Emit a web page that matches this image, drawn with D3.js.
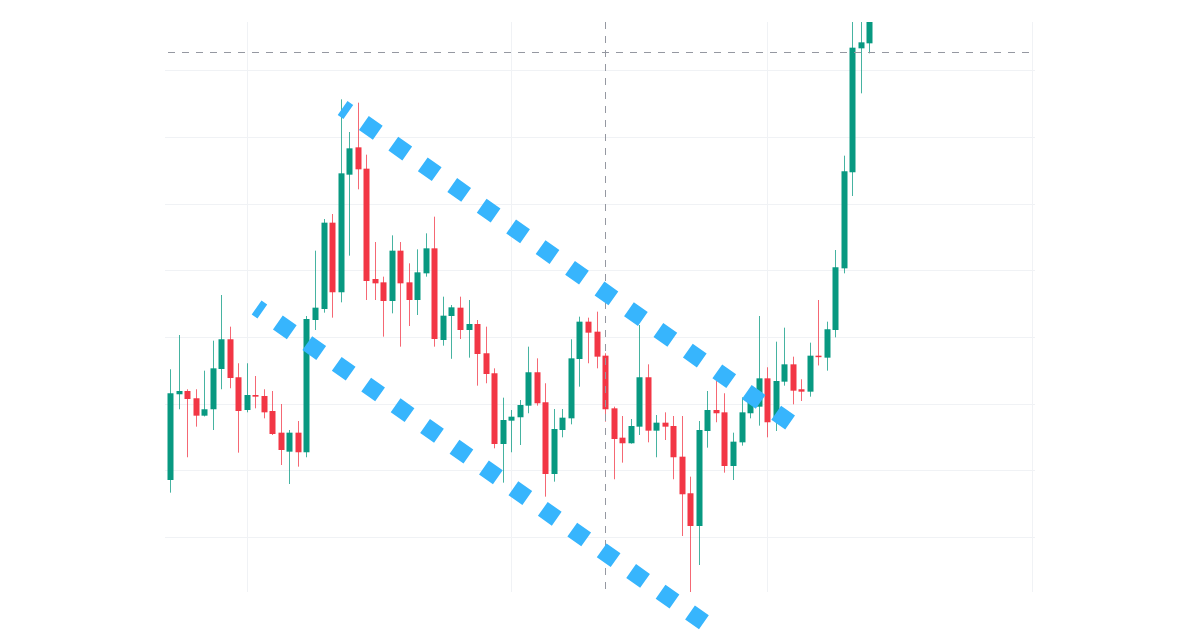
<!DOCTYPE html>
<html>
<head>
<meta charset="utf-8">
<script src="https://cdn.jsdelivr.net/npm/d3@7"></script>
<style>
  html, body { margin: 0; padding: 0; background: #ffffff; }
  svg { display: block; }
</style>
</head>
<body>
<svg id="chart" width="1200" height="630"></svg>
<script>
// ---- data ----
const firstDay = "2023-02-20";
const lastDay = "2023-05-14"; // exclusive
const open = [68.55,81.41,81.90,80.81,78.20,79.16,85.20,89.66,83.96,79.05,81.30,81.15,78.90,75.65,72.80,75.65,72.71,92.55,94.20,107.15,96.71,114.35,118.45,115.25,98.70,98.20,95.40,102.95,98.20,95.55,99.55,103.30,89.55,93.15,94.40,91.05,91.95,87.56,84.56,73.95,77.45,77.96,79.70,84.71,80.21,69.45,76.05,77.80,86.70,92.30,90.80,87.20,79.30,74.90,74.06,76.55,83.96,75.95,77.15,76.65,72.05,66.56,61.65,75.90,79.05,78.70,70.65,74.20,78.56,79.55,83.80,77.55,83.30,85.90,82.16,81.80,87.20,86.90,91.05,100.30,114.71,133.30,134.05];
const high = [85.16,90.30,82.16,82.16,84.95,89.45,96.30,91.55,86.06,86.06,84.15,82.16,81.90,79.95,76.05,77.40,93.15,102.95,107.70,108.45,125.65,120.75,125.15,117.35,104.25,99.05,105.25,104.25,101.05,103.15,105.55,108.05,96.05,94.80,96.05,95.55,92.55,91.55,85.30,80.90,79.05,80.55,88.55,86.80,83.06,79.20,79.20,89.66,93.05,92.90,93.80,87.56,79.55,78.15,77.70,91.80,85.90,78.30,78.70,78.15,78.15,69.05,77.40,81.90,83.40,81.56,75.65,80.95,81.70,93.15,85.46,89.30,91.40,87.05,83.66,89.15,95.55,92.30,103.05,117.20,139.50,140.80,141.50];
const low = [66.65,79.16,71.96,76.55,78.08,76.05,82.16,82.31,72.65,78.70,79.30,77.80,75.30,70.80,67.95,70.55,71.96,91.05,93.65,92.90,95.20,102.20,112.15,95.55,95.55,90.05,93.55,88.55,91.65,93.30,99.05,88.55,88.70,86.73,89.70,86.90,82.70,83.06,73.30,68.15,72.71,73.80,78.56,79.70,66.05,68.30,74.95,76.90,82.55,86.06,85.30,77.30,68.66,71.15,74.00,75.30,74.20,71.96,74.55,68.66,60.15,51.55,55.80,73.40,77.21,69.65,68.55,73.70,77.80,76.70,74.95,75.90,82.70,79.90,80.40,81.05,85.73,84.95,89.95,99.55,111.15,126.55,132.55];
const close = [81.56,81.90,80.70,78.20,79.16,85.30,89.66,83.85,78.90,81.30,81.05,78.70,75.45,73.05,75.65,72.71,92.70,94.40,107.15,96.71,114.55,118.30,115.15,98.40,98.05,95.40,102.95,98.05,95.55,99.70,103.30,89.70,93.20,94.45,91.05,91.95,87.45,84.45,73.95,77.55,78.05,79.80,84.71,80.06,69.45,76.20,77.90,86.80,92.30,90.65,87.05,79.16,74.70,74.06,76.65,83.96,75.95,77.15,76.55,71.96,66.41,61.65,76.05,79.05,78.56,70.65,74.30,78.70,80.50,83.80,77.21,83.40,85.90,81.95,81.80,87.20,87.05,91.16,100.46,114.86,133.40,134.20,139.00];
const priceGrid = [60,70,80,90,100,110,120,130];
const channelUpper = [["2023-03-12T05:37:00Z",124.35],["2023-05-03T17:45:00Z",77.13]];
const channelLower = [["2023-03-02T03:39:00Z",94.43],["2023-04-23T14:24:00Z",47.20]];
const crosshairDate = "2023-04-12";
const crosshairPrice = 132.80;

// ---- layout ----
const pane = {left:165, right:1035, top:22, bottom:592};
const colUp = "#089981", colDown = "#F23645", colChannel = "#37B5FD";

const dates = d3.utcDay.range(new Date(firstDay), new Date(lastDay));
const candles = dates.map((d,i)=>({date:d, o:open[i], h:high[i], l:low[i], c:close[i]}));

const step = 8.53;
const x = d3.scaleUtc()
  .domain([dates[0], dates[dates.length-1]])
  .range([170, 170 + step*(dates.length-1)]);
const y = d3.scaleLinear().domain([51.75, 137.25]).range([pane.bottom, pane.top]);

const svg = d3.select("#chart");
svg.append("defs").append("clipPath").attr("id","paneClip")
  .append("rect").attr("x",pane.left).attr("y",pane.top)
  .attr("width",pane.right-pane.left).attr("height",pane.bottom-pane.top);

// grid
const xFull = x.copy().domain([x.invert(pane.left), x.invert(pane.right)]).range([pane.left, pane.right]);
const monthTicks = xFull.ticks(d3.utcMonth.every(1));
const grid = svg.append("g").attr("stroke","#F0F2F5").attr("stroke-width",1).attr("shape-rendering","crispEdges");
grid.selectAll("line.h").data(priceGrid).join("line").attr("class","h")
  .attr("x1",pane.left).attr("x2",pane.right)
  .attr("y1",d=>Math.round(y(d))+0.5).attr("y2",d=>Math.round(y(d))+0.5);
grid.selectAll("line.v").data(monthTicks).join("line").attr("class","v")
  .attr("y1",pane.top).attr("y2",pane.bottom)
  .attr("x1",d=>Math.round(x(d))+0.5).attr("x2",d=>Math.round(x(d))+0.5);

// candles
const cg = svg.append("g").attr("clip-path","url(#paneClip)");
const bw = 6;
const g = cg.selectAll("g.c").data(candles).join("g").attr("class","c");
g.append("line")
  .attr("x1",d=>Math.round(x(d.date))+0.5).attr("x2",d=>Math.round(x(d.date))+0.5)
  .attr("y1",d=>y(d.h)).attr("y2",d=>y(d.l))
  .attr("stroke",d=>d.c>=d.o?colUp:colDown).attr("stroke-width",1).attr("stroke-opacity",0.75);
g.append("rect")
  .attr("x",d=>Math.round(x(d.date))+0.5-bw/2)
  .attr("width",bw)
  .attr("y",d=>y(Math.max(d.o,d.c)))
  .attr("height",d=>Math.max(1.5, Math.abs(y(d.o)-y(d.c))))
  .attr("fill",d=>d.c>=d.o?colUp:colDown);

// crosshair
const chx = Math.round(x(new Date(crosshairDate)))+0.5;
const chy = Math.round(y(crosshairPrice))+0.5;
const ch = svg.append("g").attr("stroke","#9598A1").attr("stroke-width",1).attr("stroke-dasharray","7,7");
ch.append("line").attr("x1",chx).attr("x2",chx).attr("y1",pane.top).attr("y2",pane.bottom);
ch.append("line").attr("x1",pane.left+3).attr("x2",pane.right).attr("y1",chy).attr("y2",chy);

// channel lines
const lineGen = d3.line().x(d=>x(new Date(d[0]))).y(d=>y(d[1]));
svg.append("g").selectAll("path").data([channelUpper, channelLower]).join("path")
  .attr("d",lineGen)
  .attr("fill","none")
  .attr("stroke",colChannel)
  .attr("stroke-width",17)
  .attr("stroke-dasharray","17,19")
  .attr("stroke-dashoffset",10)
  .attr("stroke-linecap","butt");
</script>
</body>
</html>
